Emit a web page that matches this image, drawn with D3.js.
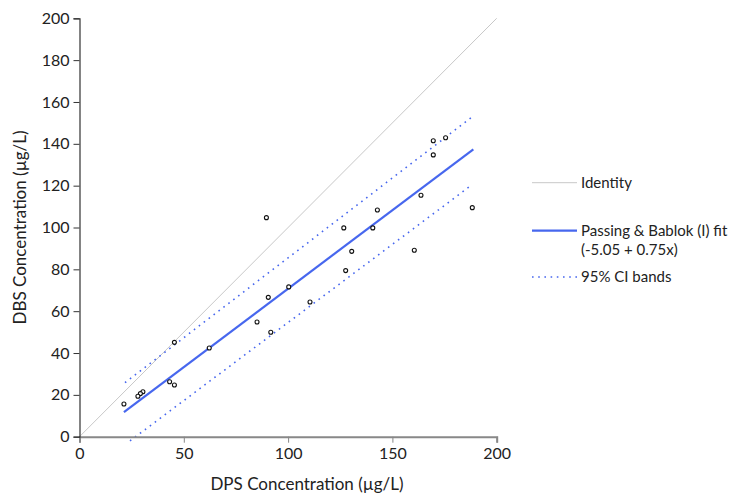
<!DOCTYPE html>
<html>
<head>
<meta charset="utf-8">
<script src="https://cdn.jsdelivr.net/npm/d3@7"></script>
<style>
  body { margin: 0; background: #fff; }
  text { font-family: Lato, 'Open Sans', sans-serif; fill: #222; }
</style>
</head>
<body>
<svg id="chart" width="741" height="494"></svg>
<script>
// measured pairs, DPS (x) vs DBS (y), in µg/L
var dps = [169.6, 175.5, 169.6, 163.7, 188.3, 89.6, 142.8, 126.7, 140.6, 130.5, 160.5, 127.6, 100.3,
  90.5, 110.5, 85.1, 91.7, 45.5, 62.2, 43.2, 45.5, 30.4, 29.2, 28.0, 21.3]
var dbs = [141.5, 142.9, 134.7, 115.4, 109.5, 104.7, 108.4, 99.8, 99.8, 88.6, 89.1, 79.4, 71.6,
  66.6, 64.4, 54.8, 49.9, 45.1, 42.4, 26.3, 24.7, 21.5, 20.6, 19.3, 15.6]

// Passing & Bablok line and its 95% CI bands, read at the ends
var fitLine = [[21.3, 11.7], [188.8, 137.4]]
var ciUpper = [[21.8, 25.8], [188.8, 153.3]]
var ciLower = [[24.2, -2], [188.0, 120.3]]
var identity = [[0, 0], [200, 200]]

var xTicks = [0, 50, 100, 150, 200]
var yTicks = [0, 20, 40, 60, 80, 100, 120, 140, 160, 180, 200]

var legendItems = [
  { label: ['Identity'], type: 'identity' },
  { label: ['Passing & Bablok (I) fit', '(-5.05 + 0.75x)'], type: 'fit' },
  { label: ['95% CI bands'], type: 'ci' }
]

var blue = '#4767ee'
var margin = { top: 18.3, left: 79.5 },
  width = 417.2,
  height = 418.4

var svg = d3.select('#chart')
var g = svg.append('g').attr('transform', 'translate(' + margin.left + ',' + margin.top + ')')

var x = d3.scaleLinear().domain([0, 200]).range([0, width])
var y = d3.scaleLinear().domain([0, 200]).range([height, 0])

var line = d3.line()
  .x(function(d) { return x(d[0]) })
  .y(function(d) { return y(d[1]) })

g.append('path').datum(identity)
  .attr('d', line).attr('fill', 'none')
  .attr('stroke', '#c8c8c8').attr('stroke-width', 1)

g.append('path').datum(ciUpper)
  .attr('d', line).attr('fill', 'none')
  .attr('stroke', blue).attr('stroke-width', 1.6)
  .attr('stroke-dasharray', '1.6,4.6')

g.append('path').datum(ciLower)
  .attr('d', line).attr('fill', 'none')
  .attr('stroke', blue).attr('stroke-width', 1.6)
  .attr('stroke-dasharray', '1.6,4.6')

g.append('path').datum(fitLine)
  .attr('d', line).attr('fill', 'none')
  .attr('stroke', blue).attr('stroke-width', 2.2)

// axes
var xAxis = g.append('g')
  .attr('transform', 'translate(0,' + height + ')')
  .call(d3.axisBottom(x).tickValues(xTicks).tickSize(6).tickPadding(5))
xAxis.select('.domain').attr('stroke', '#888').attr('stroke-width', 2)
xAxis.selectAll('.tick line').attr('stroke', '#888')
xAxis.selectAll('text').style('font-size', '16px').attr('fill', '#222')

var yAxis = g.append('g')
  .call(d3.axisLeft(y).tickValues(yTicks).tickSize(6).tickPadding(4))
yAxis.select('.domain').attr('stroke', '#333').attr('stroke-width', 1.2)
yAxis.selectAll('.tick line').attr('stroke', '#333')
yAxis.selectAll('text').style('font-size', '16px').attr('fill', '#222')

g.selectAll('.pt')
  .data(dps)
  .enter().append('circle')
  .attr('class', 'pt')
  .attr('cx', function(d) { return x(d) })
  .attr('cy', function(d, i) { return y(dbs[i]) })
  .attr('r', 2)
  .attr('fill', '#fff')
  .attr('stroke', '#111')
  .attr('stroke-width', 1.1)

svg.append('text')
  .attr('x', 307).attr('y', 490)
  .attr('text-anchor', 'middle').style('font-size', '17px')
  .text('DPS Concentration (µg/L)')

svg.append('text')
  .attr('transform', 'translate(26,' + (margin.top + height / 2) + ') rotate(-90)')
  .attr('text-anchor', 'middle').style('font-size', '17px')
  .text('DBS Concentration (µg/L)')

// legend
var legY = [182.7, 230.7, 277]
var leg = svg.selectAll('.leg')
  .data(legendItems)
  .enter().append('g')
  .attr('class', 'leg')
  .attr('transform', function(d, i) { return 'translate(532,' + legY[i] + ')' })

leg.append('line')
  .attr('x1', 0).attr('x2', 45)
  .attr('stroke', function(d) { return d.type === 'identity' ? '#c8c8c8' : blue })
  .attr('stroke-width', function(d) { return d.type === 'fit' ? 2.2 : d.type === 'ci' ? 1.6 : 1 })
  .attr('stroke-dasharray', function(d) { return d.type === 'ci' ? '1.6,4.6' : null })

leg.each(function(d) {
  var t = d3.select(this).append('text')
    .attr('x', 49).attr('y', 5).style('font-size', '15px')
  d.label.forEach(function(s, k) {
    t.append('tspan').attr('x', 49).attr('dy', k === 0 ? 0 : 19).text(s)
  })
})
</script>
</body>
</html>
